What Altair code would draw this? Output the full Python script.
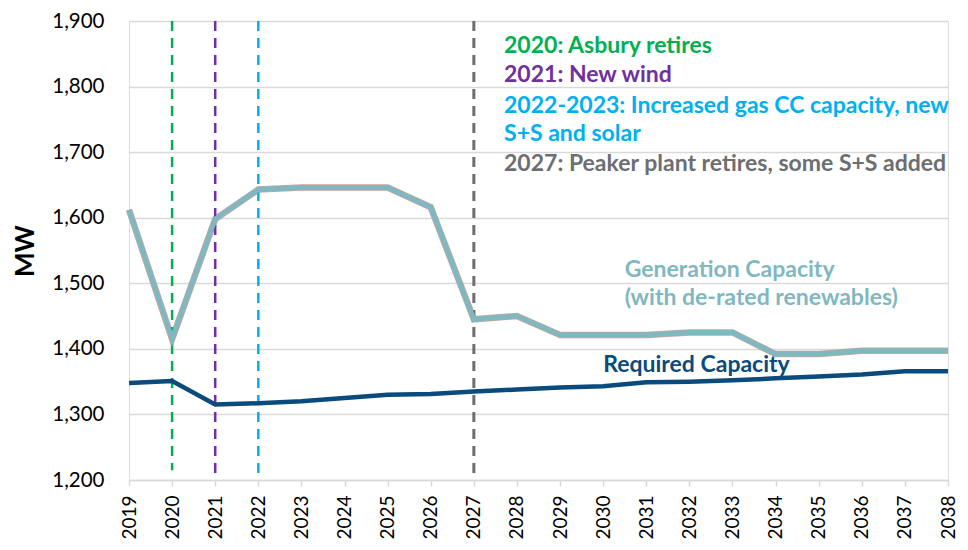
import altair as alt
import pandas as pd

years = list(range(2019, 2039))
generation = [1612, 1415, 1598, 1643, 1646, 1646, 1646, 1616, 1445, 1450,
              1421, 1421, 1421, 1425, 1425, 1392, 1392, 1397, 1397, 1397]
required = [1348, 1351, 1315, 1317, 1320, 1325, 1330, 1331, 1335, 1338,
            1341, 1343, 1349, 1350, 1352, 1355, 1358, 1361, 1366, 1366]

event_years = [2020, 2021, 2022, 2027]
event_colors = ["#00B050", "#7030A0", "#00B0F0", "#6D6E71"]
event_bottoms = [1215, 1200, 1200, 1200]
event_widths = [2.5, 2.5, 2.5, 3]

note_texts = ["2020:  Asbury retires", "2021:  New wind",
              "2022-2023:  Increased gas CC capacity, new", "S+S and solar",
              "2027:  Peaker plant retires, some S+S added"]
note_colors = ["#00B050", "#7030A0", "#00B0F0", "#00B0F0", "#6D6E71"]
note_x = [2027.7] * 5
note_y = [1862, 1818, 1770, 1728, 1682]

label_texts = ["Generation Capacity", "(with de-rated renewables)", "Required Capacity"]
label_colors = ["#7FB8C0", "#7FB8C0", "#0B4A7C"]
label_x = [2030.5, 2030.5, 2030.0]
label_y = [1520, 1477, 1375]

FONT = "Lato"
xscale = alt.Scale(domain=[2019, 2038], nice=False, zero=False)
yscale = alt.Scale(domain=[1200, 1900], nice=False, zero=False)

df = pd.DataFrame({"year": years, "gen": generation, "req": required})
ev = pd.DataFrame({"year": event_years, "color": event_colors,
                   "top": [1900] * 4, "bottom": event_bottoms, "w": event_widths})
notes = pd.DataFrame({"x": note_x, "y": note_y, "t": note_texts, "c": note_colors})
labels = pd.DataFrame({"x": label_x, "y": label_y, "t": label_texts, "c": label_colors})

x_axis = alt.X("year:Q", scale=xscale, title=None,
               axis=alt.Axis(values=years, format="d", labelAngle=-90, labelFontSize=19,
                             labelFont=FONT, labelColor="#000000", labelPadding=9,
                             labelAlign="right", labelBaseline="middle",
                             grid=False, domainColor="#D9D9D9", tickColor="#D9D9D9",
                             tickSize=6, domainWidth=1.5, tickWidth=1.5))

base = alt.Chart(df)

rules = alt.Chart(ev).mark_rule(strokeDash=[10, 7]).encode(
    x=alt.X("year:Q", scale=xscale),
    y=alt.Y("top:Q", scale=yscale),
    y2="bottom:Q",
    color=alt.Color("color:N", scale=None),
    strokeWidth=alt.StrokeWidth("w:Q", scale=None),
)

gen_outline = base.mark_line(color="#C9A79C", strokeWidth=6.5).encode(
    x=x_axis,
    y=alt.Y("gen:Q", scale=yscale, title="MW",
            axis=alt.Axis(values=list(range(1200, 1901, 100)), format=",d",
                          labelFontSize=20.5, labelFont=FONT, labelColor="#000000",
                          labelPadding=25, domain=False, ticks=False,
                          gridColor="#D9D9D9", gridWidth=1.5,
                          titleFont=FONT, titleFontSize=26, titleFontWeight="bold",
                          titleColor="#000000", titlePadding=13)),
)
gen_line = base.mark_line(color="#7FB8C0", strokeWidth=5).encode(
    x=alt.X("year:Q", scale=xscale), y=alt.Y("gen:Q", scale=yscale))
req_line = base.mark_line(color="#0B4A7C", strokeWidth=4.5).encode(
    x=alt.X("year:Q", scale=xscale), y=alt.Y("req:Q", scale=yscale))

note_marks = alt.Chart(notes).mark_text(align="left", baseline="middle", font=FONT,
                                        fontSize=23, fontWeight="bold").encode(
    x=alt.X("x:Q", scale=xscale), y=alt.Y("y:Q", scale=yscale),
    text="t:N", color=alt.Color("c:N", scale=None))

label_marks = alt.Chart(labels).mark_text(align="left", baseline="middle", font=FONT,
                                          fontSize=23, fontWeight="bold").encode(
    x=alt.X("x:Q", scale=xscale), y=alt.Y("y:Q", scale=yscale),
    text="t:N", color=alt.Color("c:N", scale=None))

chart = alt.layer(gen_outline, rules, gen_line, req_line, note_marks, label_marks).properties(
    width=819, height=459,
    autosize=alt.AutoSizeParams(type="none"),
    padding={"left": 121, "top": 13, "right": 12, "bottom": 62},
).configure_view(stroke=None).configure(background="#FFFFFF")

chart.save("out.html", embed_options={"renderer": "svg", "actions": False})
